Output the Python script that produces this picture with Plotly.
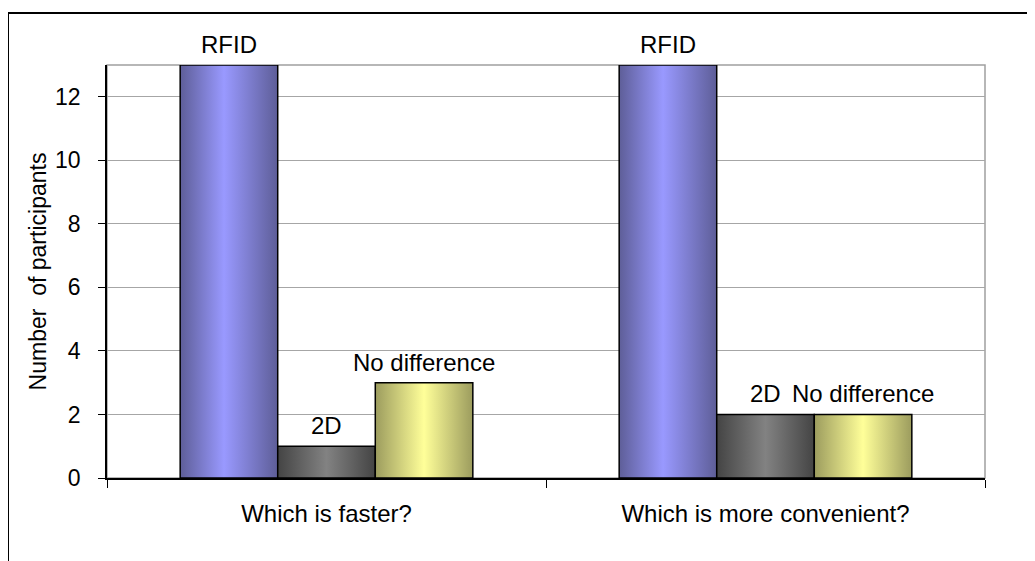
import plotly.graph_objects as go

categories = ["Which is faster?", "Which is more convenient?"]
series_names = ["RFID", "2D", "No difference"]
rfid = [13, 13]
twod = [1, 2]
nodiff = [3, 2]
series_values = [rfid, twod, nodiff]
y_ticks = [0, 2, 4, 6, 8, 10, 12]

gradients = [
    [[0, "#5e5e98"], [0.45, "#9999ff"], [1, "#5e5e98"]],
    [[0, "#444444"], [0.5, "#828282"], [1, "#444444"]],
    [[0, "#9c9c5e"], [0.5, "#ffff99"], [1, "#9c9c5e"]],
]

FONT = "Liberation Sans, Arial, sans-serif"
FS = 24
FS_TICK = 23
FS_TITLE = 23

fig = go.Figure()
group_w = 2 / 3
bar_w = group_w / len(series_names)
annotations = []
for j, (name, vals) in enumerate(zip(series_names, series_values)):
    for i, v in enumerate(vals):
        c = i + 0.5
        x0 = c - group_w / 2 + j * bar_w
        x1 = x0 + bar_w
        fig.add_trace(go.Scatter(
            x=[x0, x1, x1, x0, x0], y=[0, 0, v, v, 0],
            mode="lines", fill="toself",
            line=dict(color="black", width=1.5),
            fillgradient=dict(type="horizontal", colorscale=gradients[j]),
            showlegend=False, hoverinfo="skip",
        ))
        annotations.append(dict(
            x=(x0 + x1) / 2, y=v, xref="x", yref="y", text=name,
            showarrow=False, yanchor="bottom", yshift=5,
            font=dict(family=FONT, size=FS, color="black"),
        ))

# page body has an 8px default margin: shrink figure so plot lands in place
fig.update_layout(
    width=1027, height=553,
    margin=dict(l=99, r=50, t=57, b=83),
    paper_bgcolor="white", plot_bgcolor="white",
    font=dict(family=FONT, size=FS, color="black"),
    annotations=annotations,
    xaxis=dict(
        range=[0, len(categories)],
        tickmode="array", tickvals=[i + 0.5 for i in range(len(categories))],
        ticktext=categories, ticks="", ticklabelstandoff=13,
        tickfont=dict(family=FONT, size=FS),
        showgrid=False, zeroline=False,
        showline=True, linecolor="black", linewidth=1.5,
        minor=dict(tickmode="linear", tick0=0, dtick=1, ticks="outside",
                   ticklen=8, tickcolor="black", tickwidth=1, showgrid=False),
    ),
    yaxis=dict(
        range=[0, 13], tickmode="array", tickvals=y_ticks,
        ticks="outside", ticklen=7, tickcolor="black", tickwidth=1,
        ticklabelstandoff=13, tickfont=dict(family=FONT, size=FS_TICK),
        showgrid=True, gridcolor="#a6a6a6", gridwidth=1,
        zeroline=False, showline=True, linecolor="black", linewidth=1.5,
        title=dict(text="Number\u00a0\u00a0of participants", standoff=2,
                   font=dict(family=FONT, size=FS_TITLE)),
    ),
    shapes=[
        dict(type="rect", xref="paper", yref="paper", x0=0, x1=1, y0=0, y1=1,
             line=dict(color="#a0a0a0", width=1.5), layer="below"),
        dict(type="rect", xref="paper", yref="paper",
             x0=(8 - 107) / 878, x1=1.2, y0=-0.4, y1=(478 - 13) / 413,
             line=dict(color="black", width=2)),
    ],
)

fig.write_html("out.html")
